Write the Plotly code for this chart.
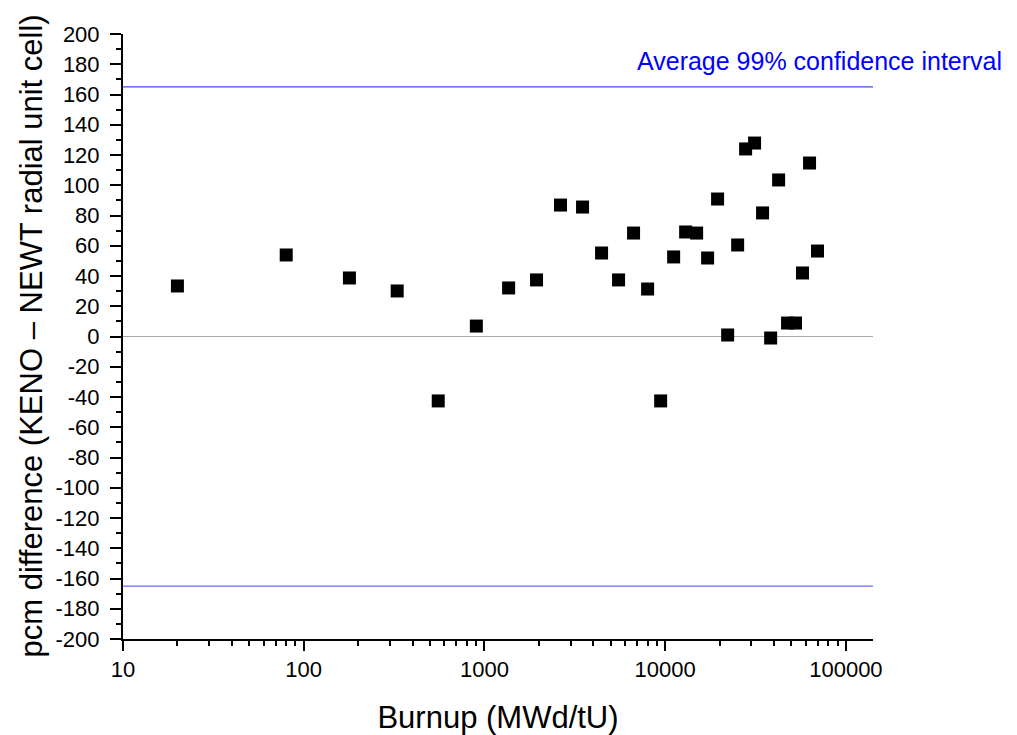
import plotly.graph_objects as go

# Data
burnup = [20, 80, 179, 329, 555, 902, 1361, 1942, 2635, 3490, 4447, 5523, 6686,
          7995, 9440, 11141, 12980, 14930, 17170, 19500, 22170, 25180, 27870,
          31240, 34590, 38340, 42440, 47560, 52630, 57540, 62930, 69660]
pcm_diff = [33.4, 53.9, 38.7, 30.1, -42.6, 6.9, 32.1, 37.4, 86.9, 85.6, 55.2, 37.4,
            68.4, 31.4, -42.6, 52.6, 69.1, 68.4, 51.9, 90.9, 1.0, 60.5, 124.0,
            127.9, 81.7, -1.0, 103.5, 8.9, 8.9, 42.0, 114.7, 56.5]
ci_limit = 165
x_tickvals = [10, 100, 1000, 10000, 100000]
x_ticktext = ["10", "100", "1000", "10000", "100000"]
y_tickvals = list(range(-200, 201, 20))
y_ticktext = [str(v) for v in y_tickvals]
annotation_text = "Average 99% confidence interval"
x_title = "Burnup (MWd/tU)"
y_title = "pcm difference (KENO \u2013 NEWT radial unit cell)"

FONT = "Liberation Sans"

ML, MR = 123, 144
plot_w = 1017 - ML - MR

fig = go.Figure()
fig.add_trace(go.Scatter(
    x=burnup, y=pcm_diff, mode="markers",
    marker=dict(symbol="square", size=13, color="black", line=dict(width=0)),
    showlegend=False, cliponaxis=False,
))

fig.add_hline(y=ci_limit, line=dict(color="#4444ff", width=1.2), layer="below")
fig.add_hline(y=-ci_limit, line=dict(color="#6a6aff", width=1.2), layer="below")
fig.add_hline(y=0, line=dict(color="#aaaaaa", width=1.2), layer="below")

fig.add_annotation(
    x=(1004 - ML) / plot_w, xref="paper", y=ci_limit, yref="y",
    xanchor="right", yanchor="bottom", yshift=10,
    text=annotation_text, showarrow=False,
    font=dict(family=FONT, size=25, color="#0000ff"),
)

fig.add_annotation(
    x=(31 - ML) / plot_w, xref="paper", y=0.5, yref="paper",
    xanchor="center", yanchor="middle", textangle=-90,
    text=y_title, showarrow=False,
    font=dict(family=FONT, size=31, color="black"),
)

fig.update_layout(
    width=1017, height=735,
    margin=dict(l=ML, r=MR, t=34, b=96, autoexpand=False),
    paper_bgcolor="white", plot_bgcolor="white",
    font=dict(family=FONT, color="black"),
    xaxis=dict(
        type="log", range=[1, 5.15],
        tickvals=x_tickvals, ticktext=x_ticktext,
        ticks="outside", ticklen=10, tickwidth=2, tickcolor="black",
        minor=dict(ticks="outside", ticklen=5, tickwidth=2, tickcolor="black", dtick="D1"),
        showline=True, linecolor="black", linewidth=2,
        showgrid=False, zeroline=False,
        tickfont=dict(size=22, family=FONT),
        title=dict(text=x_title, font=dict(size=31, family=FONT), standoff=26),
    ),
    yaxis=dict(
        range=[-200, 200],
        tickvals=y_tickvals, ticktext=y_ticktext,
        ticks="outside", ticklen=11, tickwidth=2, tickcolor="black",
        ticklabelstandoff=6,
        minor=dict(ticks="outside", ticklen=5, tickwidth=2, tickcolor="black", dtick=10),
        showline=True, linecolor="black", linewidth=2,
        showgrid=False, zeroline=False,
        tickfont=dict(size=22, family=FONT),
    ),
)

fig.write_html("out.html")
